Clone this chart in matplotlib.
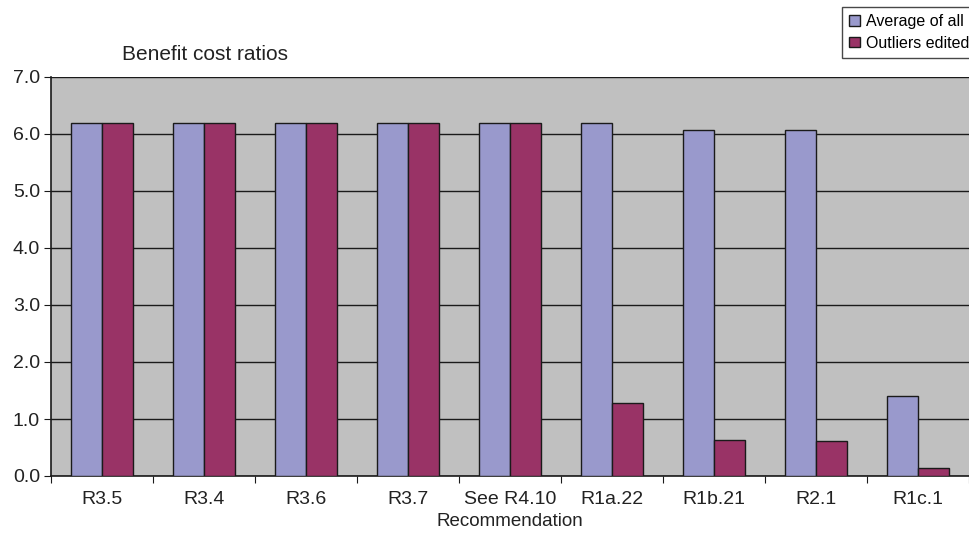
import numpy as np
import matplotlib.pyplot as plt

plt.rcParams['font.family'] = ['Liberation Sans', 'DejaVu Sans']

categories = ["R3.5", "R3.4", "R3.6", "R3.7", "See R4.10", "R1a.22", "R1b.21", "R2.1", "R1c.1"]
average_all = [6.2, 6.2, 6.2, 6.2, 6.2, 6.2, 6.07, 6.07, 1.41]
outliers_edited = [6.2, 6.2, 6.2, 6.2, 6.2, 1.28, 0.64, 0.62, 0.14]

fig = plt.figure(figsize=(9.7, 5.39), dpi=100)
ax = fig.add_axes([51 / 970, 1 - 476 / 539, 918 / 970, 399 / 539])
ax.set_facecolor('#c0c0c0')

x = np.arange(len(categories))
w = 0.3
b1 = ax.bar(x - w / 2, average_all, w, color='#9999cc', edgecolor='#1a1a1a', linewidth=1.0,
            label='Average of all', zorder=3)
b2 = ax.bar(x + w / 2, outliers_edited, w, color='#993366', edgecolor='#1a1a1a', linewidth=1.0,
            label='Outliers edited', zorder=3)

ax.set_xlim(-0.5, len(categories) - 0.5)
ax.set_ylim(0, 7)
yt = np.arange(0, 7.5, 1.0)
ax.set_yticks(yt)
ax.set_yticklabels([f"{v:.1f}" for v in yt])
ax.yaxis.grid(True, color='#1a1a1a', linewidth=1.0, zorder=1)
ax.set_axisbelow(True)

# category separators as ticks, names centred between them
ax.set_xticks(np.arange(-0.5, len(categories) - 0.4, 1.0))
ax.set_xticklabels([])
ax.set_xticks(x, minor=True)
ax.set_xticklabels(categories, minor=True)
ax.tick_params(axis='x', which='minor', length=0, pad=11)
ax.tick_params(axis='x', which='major', length=5, direction='out', color='#1a1a1a')
ax.tick_params(axis='y', length=5, direction='out', color='#1a1a1a', pad=3)
ax.tick_params(axis='both', which='both', labelsize=14, labelcolor='#222222')

for s in ['top', 'right']:
    ax.spines[s].set_visible(False)
for s in ['left', 'bottom']:
    ax.spines[s].set_color('#1a1a1a')
    ax.spines[s].set_linewidth(1.2)

fig.text(510 / 970, 1 - 521 / 539, 'Recommendation', fontsize=13.5, color='#222222',
         ha='center', va='center')
fig.text(122 / 970, 1 - 55 / 539, 'Benefit cost ratios', fontsize=15, color='#222222',
         ha='left', va='center')

leg = fig.legend(handles=[b1, b2], loc='upper left', bbox_to_anchor=(842 / 970, 1 - 7 / 539),
                 fontsize=11.5, frameon=True, fancybox=False, edgecolor='#1a1a1a',
                 handlelength=0.65, handleheight=0.65, handletextpad=0.4,
                 borderpad=0.45, labelspacing=0.4, borderaxespad=0.0)
leg.get_frame().set_linewidth(1.0)
for h in leg.legend_handles:
    h.set_edgecolor('#1a1a1a')

fig.savefig('out.png', dpi=100)
